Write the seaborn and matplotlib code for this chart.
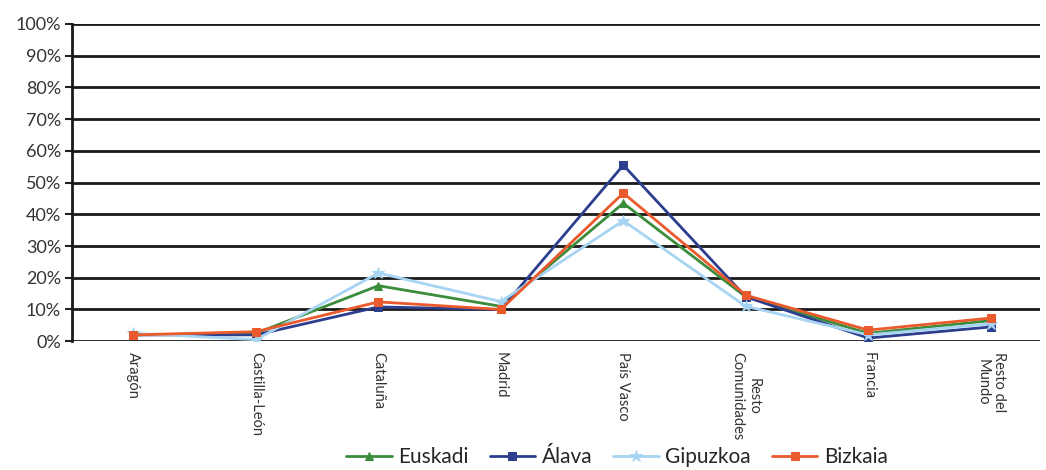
import pandas as pd
import seaborn as sns
import matplotlib.pyplot as plt
from matplotlib.ticker import PercentFormatter

regions = ['Aragón', 'Castilla-León', 'Cataluña', 'Madrid', 'País Vasco',
           'Resto\nComunidades', 'Francia', 'Resto del\nMundo']

euskadi = [2.0, 2.5, 17.5, 11.0, 43.5, 14.0, 2.5, 6.5]
alava = [2.0, 2.0, 10.8, 10.0, 55.5, 14.0, 1.0, 4.5]
gipuzkoa = [2.5, 0.5, 21.5, 12.5, 38.0, 11.0, 2.0, 5.5]
bizkaia = [2.0, 3.0, 12.4, 10.0, 46.7, 14.5, 3.5, 7.3]

series = ['Euskadi', 'Álava', 'Gipuzkoa', 'Bizkaia']
colors = ['#3b8c3b', '#2c3e8e', '#a6d4f2', '#ea5a2c']
markers = ['^', 's', '*', 's']

df = pd.DataFrame({'region': regions * 4,
                   'pos': list(range(len(regions))) * 4,
                   'valor': euskadi + alava + gipuzkoa + bizkaia,
                   'serie': [s for s in series for _ in regions]})

sns.set_style('white')
plt.rcParams['font.family'] = ['Lato', 'DejaVu Sans']

fig = plt.figure(figsize=(10.46, 4.70), dpi=100)
ax = fig.add_axes([0.069, 0.274, 0.925, 0.675])

for s, c, m in zip(series, colors, markers):
    d = df[df['serie'] == s]
    sns.lineplot(data=d, x='pos', y='valor', ax=ax, color=c, marker=m,
                 markersize=9 if m == '*' else 6, markeredgecolor=c,
                 linewidth=2, label=s)

ax.set_ylim(0, 100)
ax.set_xlim(-0.5, 7.4)
ax.set_yticks(range(0, 101, 10))
ax.yaxis.set_major_formatter(PercentFormatter(decimals=0))
ax.set_xticks(range(len(regions)))
ax.set_xticklabels(regions, rotation=-90, va='top', ha='center',
                   fontsize=10.5, color='#333333')
ax.tick_params(axis='x', length=0, pad=8)
ax.tick_params(axis='y', length=5, width=1.5, color='#222222',
               labelsize=13, labelcolor='#333333', direction='out', left=True,
               pad=3)
ax.grid(axis='y', color='#1a1a1a', linewidth=2)
ax.set_axisbelow(True)
for side in ['top', 'right', 'bottom']:
    ax.spines[side].set_visible(False)
ax.spines['left'].set_color('#1a1a1a')
ax.spines['left'].set_linewidth(2)
ax.set_xlabel('')
ax.set_ylabel('')

ax.legend(loc='lower center', bbox_to_anchor=(0.563, -0.455), ncol=4,
          frameon=False, fontsize=15, handlelength=2.2, columnspacing=1.0,
          handletextpad=0.3)

fig.savefig('out.png', dpi=100)
